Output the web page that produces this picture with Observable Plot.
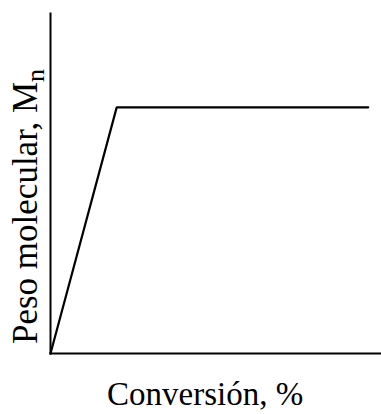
<!DOCTYPE html>
<html>
<head>
<meta charset="utf-8">
<script src="https://cdn.jsdelivr.net/npm/d3@7"></script>
<script src="https://cdn.jsdelivr.net/npm/@observablehq/plot@0.6"></script>
<style>
  html, body { margin: 0; padding: 0; background: #fff; }
  svg { display: block; }
</style>
</head>
<body>
<div id="chart"></div>
<script>
// Data (schematic: Mn vs conversion, chain-growth behaviour)
const conversion = [0, 20, 96];
const mn = [0, 72.4, 72.4];
const xLabel = "Conversión, %";
const yLabelMain = "Peso molecular, M";
const yLabelSub = "n";

const data = conversion.map((c, i) => ({conversion: c, mn: mn[i]}));

const W = 381, H = 414;
const plot = Plot.plot({
  width: W,
  height: H,
  marginLeft: 50,
  marginRight: 0,
  marginTop: 13,
  marginBottom: 61,
  style: {background: "#fff", fontFamily: "'Liberation Serif', 'Times New Roman', serif"},
  x: {domain: [0, 100], axis: null},
  y: {domain: [0, 100], axis: null},
  marks: [
    Plot.frame({anchor: "left", stroke: "#000", strokeWidth: 2}),
    Plot.frame({anchor: "bottom", stroke: "#000", strokeWidth: 2}),
    Plot.line(data, {x: "conversion", y: "mn", stroke: "#000", strokeWidth: 2.2, strokeLinejoin: "miter"})
  ]
});
document.getElementById("chart").appendChild(plot);

const svg = d3.select(plot);
const font = "'Liberation Serif', 'Times New Roman', serif";
svg.append("text")
  .attr("x", 107)
  .attr("y", 405)
  .attr("text-anchor", "start")
  .attr("font-family", font)
  .attr("font-size", 33)
  .attr("fill", "#000")
  .text(xLabel);

const yl = svg.append("text")
  .attr("transform", `translate(37,344) rotate(-90)`)
  .attr("text-anchor", "start")
  .attr("font-family", font)
  .attr("font-size", 35)
  .attr("fill", "#000");
yl.append("tspan").text(yLabelMain);
yl.append("tspan").attr("dy", 7).attr("font-size", 26).text(yLabelSub);
</script>
</body>
</html>
